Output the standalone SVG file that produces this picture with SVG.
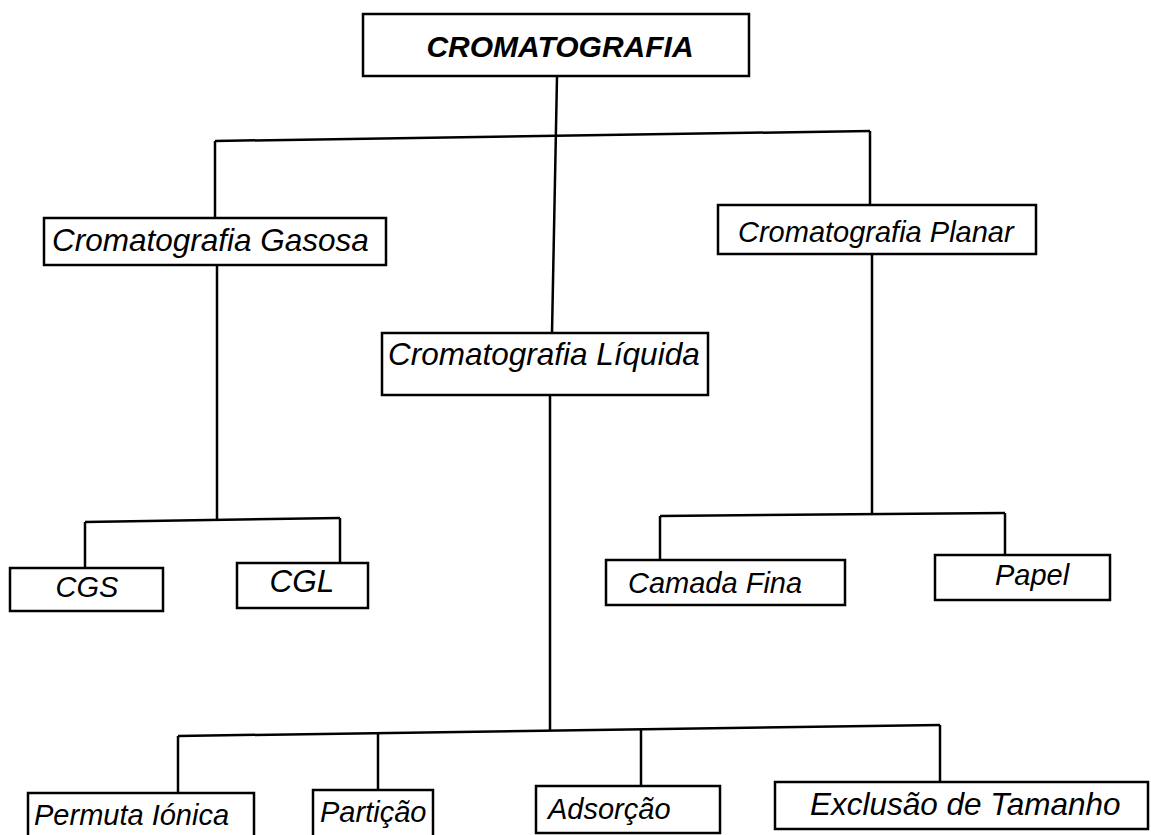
<svg xmlns="http://www.w3.org/2000/svg" width="1151" height="835" viewBox="0 0 1151 835">
<style>
.box{fill:#fff;stroke:#000;stroke-width:2.5}
.t{font-family:"Liberation Sans",Arial,sans-serif;font-style:italic;font-size:29px;fill:#000}
.l{font-size:31.5px}
.b{font-weight:bold;font-size:30px}
.c{fill:none;stroke:#000;stroke-width:2.5}
</style>
<rect width="1151" height="835" fill="#fff"/>
<g id="connectors">
<path class="c" d="M557 77 L552 333"/>
<path class="c" d="M215 141 L870 131"/>
<path class="c" d="M215 141 L215 218"/>
<path class="c" d="M870 131 L870 205"/>
<path class="c" d="M217 265 L217 520"/>
<path class="c" d="M85 522 L340 518"/>
<path class="c" d="M85 522 L85 568"/>
<path class="c" d="M340 518 L340 563"/>
<path class="c" d="M872 254 L872 515"/>
<path class="c" d="M660 516 L1005 513"/>
<path class="c" d="M660 516 L660 560"/>
<path class="c" d="M1005 513 L1005 555"/>
<path class="c" d="M550 395 L550 731"/>
<path class="c" d="M178 736 L940 725"/>
<path class="c" d="M178 736 L178 793"/>
<path class="c" d="M378 733 L378 790"/>
<path class="c" d="M641 729 L641 786"/>
<path class="c" d="M940 725 L940 782"/>
</g>
<g id="n-cromatografia">
<rect class="box" x="363" y="14" width="386" height="62"/>
<text class="t b" x="560" y="57" text-anchor="middle">CROMATOGRAFIA</text>
</g>
<g id="n-gasosa">
<rect class="box" x="44" y="218" width="342" height="47"/>
<text class="t l" x="52" y="251">Cromatografia Gasosa</text>
</g>
<g id="n-planar">
<rect class="box" x="718" y="205" width="318" height="49"/>
<text class="t" x="738" y="242">Cromatografia Planar</text>
</g>
<g id="n-liquida">
<rect class="box" x="382" y="333" width="326" height="62"/>
<text class="t l" x="388" y="365">Cromatografia Líquida</text>
</g>
<g id="n-cgs">
<rect class="box" x="10" y="568" width="153" height="43"/>
<text class="t" x="87" y="597" text-anchor="middle">CGS</text>
</g>
<g id="n-cgl">
<rect class="box" x="237" y="563" width="131" height="45"/>
<text class="t l" x="302" y="592" text-anchor="middle">CGL</text>
</g>
<g id="n-camada">
<rect class="box" x="606" y="560" width="239" height="45"/>
<text class="t" x="628" y="593">Camada Fina</text>
</g>
<g id="n-papel">
<rect class="box" x="935" y="555" width="175" height="45"/>
<text class="t" x="1032" y="585" text-anchor="middle">Papel</text>
</g>
<g id="n-permuta">
<rect class="box" x="28" y="793" width="226" height="45"/>
<text class="t" x="34" y="825">Permuta Iónica</text>
</g>
<g id="n-particao">
<rect class="box" x="313" y="790" width="120" height="48"/>
<text class="t" x="320" y="822">Partição</text>
</g>
<g id="n-adsorcao">
<rect class="box" x="536" y="786" width="184" height="47"/>
<text class="t" x="548" y="819">Adsorção</text>
</g>
<g id="n-exclusao">
<rect class="box" x="775" y="782" width="373" height="47"/>
<text class="t l" x="810" y="815">Exclusão de Tamanho</text>
</g>
</svg>
